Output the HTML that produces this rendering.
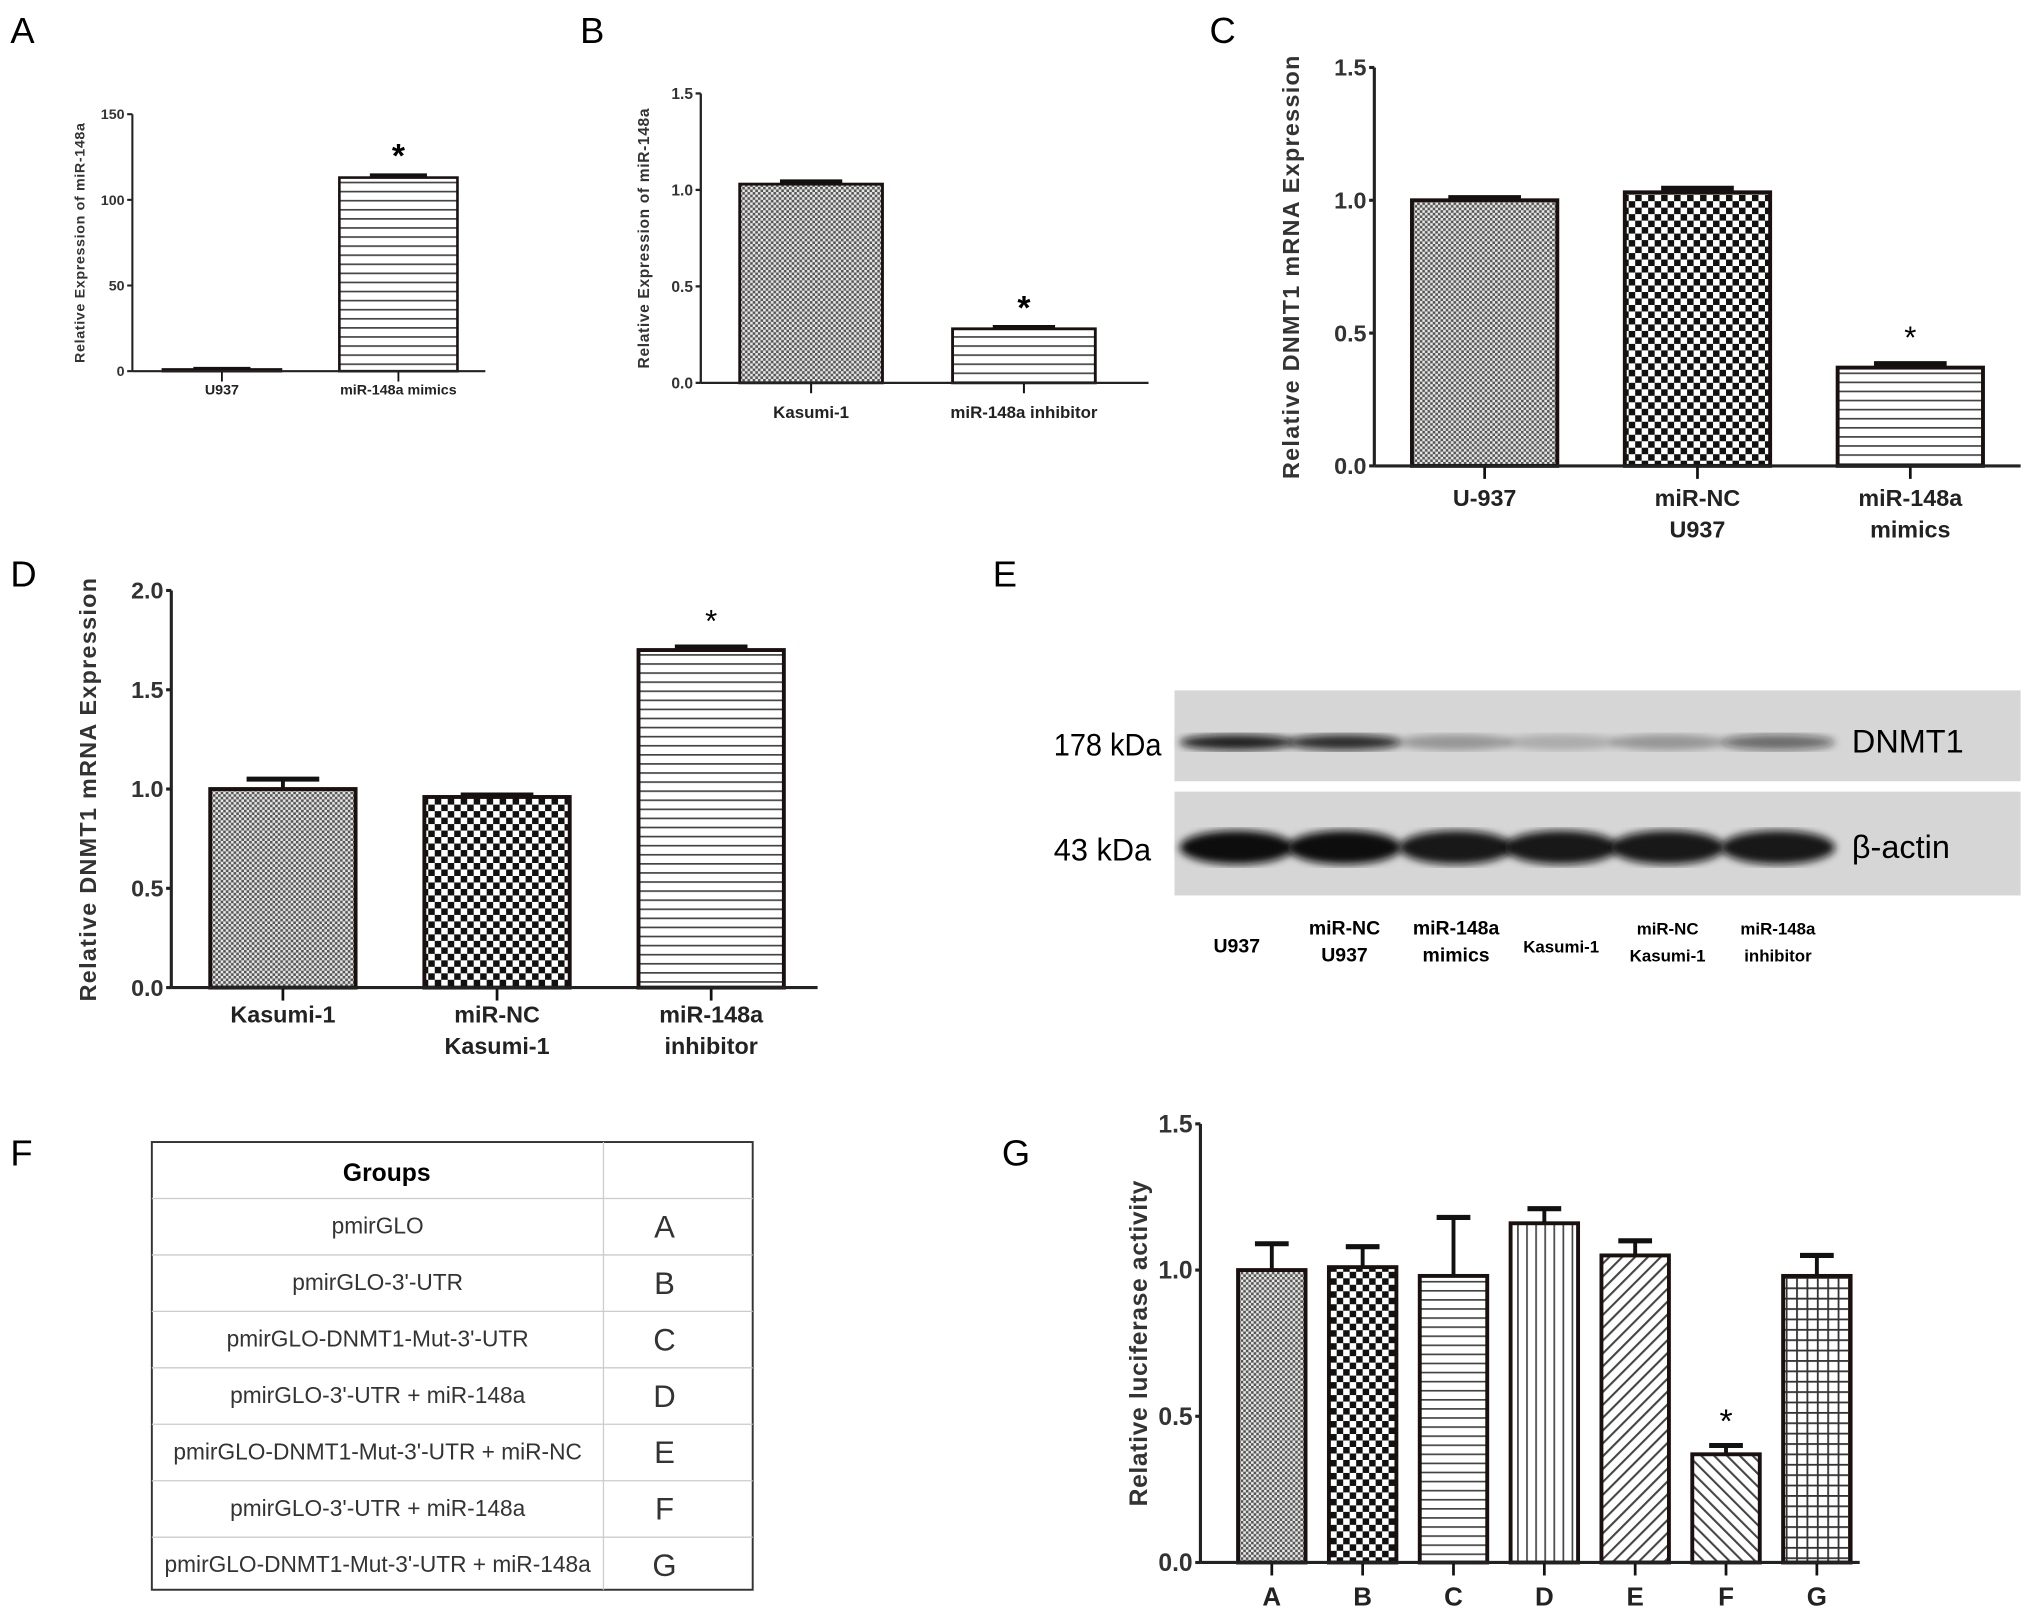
<!DOCTYPE html>
<html><head><meta charset="utf-8"><style>
html,body{margin:0;padding:0;background:#fff}
svg{display:block}
text{font-family:"Liberation Sans",sans-serif}
</style></head><body>
<svg id="fig" width="2031" height="1617" viewBox="0 0 1565 1246" preserveAspectRatio="none" xmlns="http://www.w3.org/2000/svg">
<defs>
<pattern id="pDots" width="4" height="4" patternUnits="userSpaceOnUse"><rect width="4" height="4" fill="#e8e8e8"/><rect width="2" height="2" fill="#555"/><rect x="2" y="2" width="2" height="2" fill="#555"/></pattern>
<pattern id="pCheck" width="10" height="10" patternUnits="userSpaceOnUse"><rect width="10" height="10" fill="#fff"/><rect width="5" height="5" fill="#111"/><rect x="5" y="5" width="5" height="5" fill="#111"/></pattern>
<pattern id="pHoriz" width="6" height="7" patternUnits="userSpaceOnUse"><rect width="6" height="7" fill="#fff"/><rect y="0" width="6" height="1.3" fill="#444"/></pattern>
<pattern id="pVert" width="7" height="6" patternUnits="userSpaceOnUse"><rect width="7" height="6" fill="#fff"/><rect x="0" width="1.3" height="6" fill="#444"/></pattern>
<pattern id="pDiagR" width="7" height="7" patternUnits="userSpaceOnUse" patternTransform="rotate(45)"><rect width="7" height="7" fill="#fff"/><rect width="1.6" height="7" fill="#444"/></pattern>
<pattern id="pDiagL" width="7" height="7" patternUnits="userSpaceOnUse" patternTransform="rotate(-45)"><rect width="7" height="7" fill="#fff"/><rect width="1.6" height="7" fill="#444"/></pattern>
<pattern id="pGrid" width="8" height="8" patternUnits="userSpaceOnUse"><rect width="8" height="8" fill="#fff"/><rect width="1.4" height="8" fill="#333"/><rect width="8" height="1.4" fill="#333"/></pattern>
<filter id="blur"><feGaussianBlur stdDeviation="3"/></filter>
</defs>
<g id="root"></g>
</svg>
<script>
// Panel A
const aCats=["U937","miR-148a mimics"];
const aVals=[1,113];
const aErrs=[0.5,1.5];
const aTicks=[0,50,100,150];
// Panel B
const bCats=["Kasumi-1","miR-148a inhibitor"];
const bVals=[1.03,0.28];
const bErrs=[0.015,0.01];
const bTicks=[0,0.5,1.0,1.5];
// Panel C
const cCats=[["U-937"],["miR-NC","U937"],["miR-148a","mimics"]];
const cVals=[1.0,1.03,0.37];
const cErrs=[0.01,0.015,0.015];
const cTicks=[0,0.5,1.0,1.5];
// Panel D
const dCats=[["Kasumi-1"],["miR-NC","Kasumi-1"],["miR-148a","inhibitor"]];
const dVals=[1.0,0.96,1.7];
const dErrs=[0.05,0.01,0.015];
const dTicks=[0,0.5,1.0,1.5,2.0];
// Panel G
const gCats=["A","B","C","D","E","F","G"];
const gVals=[1.0,1.01,0.98,1.16,1.05,0.37,0.98];
const gErrs=[0.09,0.07,0.2,0.05,0.05,0.03,0.07];
const gTicks=[0,0.5,1.0,1.5];
// Western blot band intensities (0-1)
const dnmtBands=[0.9,0.85,0.3,0.2,0.3,0.55];
const actinBands=[1,1,0.95,0.95,0.95,0.95];
const blotLanes=[["U937"],["miR-NC","U937"],["miR-148a","mimics"],["Kasumi-1"],["miR-NC","Kasumi-1"],["miR-148a","inhibitor"]];
// Table F
const tableGroups=["pmirGLO","pmirGLO-3'-UTR","pmirGLO-DNMT1-Mut-3'-UTR","pmirGLO-3'-UTR + miR-148a","pmirGLO-DNMT1-Mut-3'-UTR + miR-NC","pmirGLO-3'-UTR + miR-148a","pmirGLO-DNMT1-Mut-3'-UTR + miR-148a"];
const tableLetters=["A","B","C","D","E","F","G"];

const NS="http://www.w3.org/2000/svg";
const root=document.getElementById('root');
function mk(tag,attrs,parent,txt){const e=document.createElementNS(NS,tag);for(const k in attrs)e.setAttribute(k,attrs[k]);if(txt!==undefined)e.textContent=txt;(parent||root).appendChild(e);return e;}

function panelLabel(t,x,y){const e=mk('text',{x:x,y:y,'font-size':28},root,t);

}

function barChart(o){
  const g=mk('g',{});
  
  
  const ymin=o.ticks[0],ymax=o.ticks[o.ticks.length-1];
  const Y=v=>o.y0-(v-ymin)/(ymax-ymin)*(o.y0-o.yTop);
  const n=o.vals.length;
  const X=i=>o.first+o.step*i;
  for(let i=0;i<n;i++){
    const cx=X(i),top=Y(o.vals[i]);
    const eb=mk('g',{},g);
    
    
    const et=Y(o.vals[i]+o.errs[i]);
    mk('line',{x1:cx,x2:cx,y1:top,y2:et,stroke:'#111','stroke-width':o.sw},eb);
    mk('line',{x1:cx-o.capW,x2:cx+o.capW,y1:et,y2:et,stroke:'#111','stroke-width':o.sw*1.3},eb);
    const r=mk('rect',{x:cx-o.bw/2,y:top,width:o.bw,height:o.y0-top,fill:'url(#'+o.fills[i]+')',stroke:'#1a1010','stroke-width':o.sw},g);
    
    
    if(o.star && o.star[i]){const s=mk('text',{x:cx,y:et-o.starOff,'text-anchor':'middle','font-size':o.starSize,'font-weight':o.starBold?'bold':'normal'},g,'*');
    
    }
    mk('line',{x1:cx,x2:cx,y1:o.y0,y2:o.y0+o.tickLen,stroke:'#111','stroke-width':o.sw*0.7},g);
    const lab=Array.isArray(o.cats[i])?o.cats[i]:[o.cats[i]];
    lab.forEach((l,j)=>{const t=mk('text',{x:cx,y:o.labY+j*o.labLH,'text-anchor':'middle','font-size':o.labSize,'font-weight':'bold',fill:'#222'},g,l);
    
    });
  }
  const ya=mk('line',{x1:o.x0,x2:o.x0,y1:o.yTop,y2:o.y0,stroke:'#222','stroke-width':o.sw*0.8},g);
  
  
  const xa=mk('line',{x1:o.x0,x2:o.xEnd,y1:o.y0,y2:o.y0,stroke:'#222','stroke-width':o.sw*0.8},g);
  
  
  o.ticks.forEach(t=>{const y=Y(t);
    mk('line',{x1:o.x0-4,x2:o.x0,y1:y,y2:y,stroke:'#222','stroke-width':o.sw*0.8},g);
    const tl=mk('text',{x:o.x0-6,y:y+o.tickSize*0.35,'text-anchor':'end','font-size':o.tickSize,'font-weight':'bold',fill:'#333'},g,o.fmt(t));
    
    });
  const ty=(o.y0+o.yTop)/2;
  const tt=mk('text',{x:o.titleX,y:ty,'text-anchor':'middle','font-size':o.titleSize,'font-weight':'bold',fill:'#333','letter-spacing':o.titleLS||0,transform:'rotate(-90 '+o.titleX+' '+ty+')'},g,o.title);
  
  
}
const f1=v=>v.toFixed(1), f0=v=>String(v);

panelLabel('A',8,33);panelLabel('B',447,33);panelLabel('C',932,33);
panelLabel('D',8,452);panelLabel('E',765,452);panelLabel('F',8,898);panelLabel('G',772,898);

barChart({name:'chart-a',cats:aCats,vals:aVals,errs:aErrs,ticks:aTicks,fmt:f0,x0:102,xEnd:374,first:171,step:136,y0:286,yTop:88,bw:91,sw:2,capW:22,tickLen:8,
 fills:['pHoriz','pHoriz'],star:[0,1],starOff:6,starSize:26,starBold:true,labY:304,labLH:14,labSize:11,tickSize:11,title:'Relative Expression of miR-148a',titleX:65,titleSize:11,titleLS:0.5});
barChart({name:'chart-b',cats:bCats,vals:bVals,errs:bErrs,ticks:bTicks,fmt:f1,x0:540,xEnd:885,first:625,step:164,y0:295,yTop:72,bw:110,sw:2.2,capW:24,tickLen:8,
 fills:['pDots','pHoriz'],star:[0,1],starOff:6,starSize:26,starBold:true,labY:322,labLH:14,labSize:13,tickSize:12,title:'Relative Expression of miR-148a',titleX:500,titleSize:12,titleLS:0.5});
barChart({name:'chart-c',cats:cCats,vals:cVals,errs:cErrs,ticks:cTicks,fmt:f1,x0:1059,xEnd:1557,first:1144,step:164,y0:359,yTop:52,bw:112,sw:3,capW:28,tickLen:10,
 fills:['pDots','pCheck','pHoriz'],star:[0,0,1],starOff:12,starSize:24,starBold:false,labY:390,labLH:24,labSize:18,tickSize:18,title:'Relative DNMT1 mRNA Expression',titleX:1001,titleSize:18,titleLS:1});
barChart({name:'chart-d',cats:dCats,vals:dVals,errs:dErrs,ticks:dTicks,fmt:f1,x0:132,xEnd:630,first:218,step:165,y0:761,yTop:455,bw:112,sw:3,capW:28,tickLen:10,
 fills:['pDots','pCheck','pHoriz'],star:[0,0,1],starOff:12,starSize:24,starBold:false,labY:788,labLH:24,labSize:18,tickSize:18,title:'Relative DNMT1 mRNA Expression',titleX:74,titleSize:18,titleLS:1});
barChart({name:'chart-g',cats:gCats,vals:gVals,errs:gErrs,ticks:gTicks,fmt:f1,x0:925,xEnd:1433,first:980,step:70,y0:1204,yTop:866,bw:52,sw:3,capW:13,tickLen:10,
 fills:['pDots','pCheck','pHoriz','pVert','pDiagR','pDiagL','pGrid'],star:[0,0,0,0,0,1,0],starOff:10,starSize:26,starBold:false,labY:1237,labLH:20,labSize:20,tickSize:19,title:'Relative luciferase activity',titleX:884,titleSize:19,titleLS:0.5});

// Western blot
(function(){
 const g=mk('g',{});
 
 
 const strips=[[532,602,dnmtBands,12],[610,690,actinBands,26]];
 const lx=[953,1036,1122,1203,1285,1370];
 strips.forEach((s,si)=>{
  const r=mk('rect',{x:905,y:s[0],width:652,height:s[1]-s[0],fill:'#d6d6d6'},g);
  
  
  const cy=si?653:572;
  s[2].forEach((v,i)=>{const e=mk('ellipse',{cx:lx[i],cy:cy,rx:44,ry:s[3]/2,fill:'#111','fill-opacity':v,filter:'url(#blur)'},g);
   
   });
 });
 [['178 kDa',812,582],['43 kDa',812,663]].forEach(a=>{const t=mk('text',{x:a[1],y:a[2],'font-size':24,textLength:a[0].length>6?83:75,lengthAdjust:'spacingAndGlyphs'},g,a[0]);
  
  });
 [['DNMT1',1427,580],['β-actin',1427,661]].forEach(a=>{const t=mk('text',{x:a[1],y:a[2],'font-size':25},g,a[0]);
  
  });
 blotLanes.forEach((l,i)=>{
  const y0=l.length>1?720:734;
  l.forEach((s,j)=>{const t=mk('text',{x:lx[i],y:y0+j*21,'text-anchor':'middle','font-size':i>=3?13:15,'font-weight':'bold'},g,s);
   
   });});
})();

// Table F
(function(){
 const g=mk('g',{});
 
 
 const x0=117,x1=580,xd=465,y0=880,hh=43.5;
 mk('rect',{x:x0,y:y0,width:x1-x0,height:345,fill:'#fff',stroke:'#333','stroke-width':1.5},g);
 mk('line',{x1:xd,x2:xd,y1:y0,y2:1225,stroke:'#ccc','stroke-width':1},g);
 const h=mk('text',{x:298,y:910,'text-anchor':'middle','font-size':19,'font-weight':'bold'},g,'Groups');
 
 
 tableGroups.forEach((s,i)=>{const y=y0+hh*(i+1);
  mk('line',{x1:x0,x2:x1,y1:y,y2:y,stroke:'#ccc','stroke-width':1},g);
  const t=mk('text',{x:291,y:y+27,'text-anchor':'middle','font-size':17.5,fill:'#333'},g,s);
  
  
  const l=mk('text',{x:512,y:y+30,'text-anchor':'middle','font-size':24,'font-family':'Liberation Serif, serif',fill:'#333'},g,tableLetters[i]);
  
  });
})();
</script>
</body></html>
